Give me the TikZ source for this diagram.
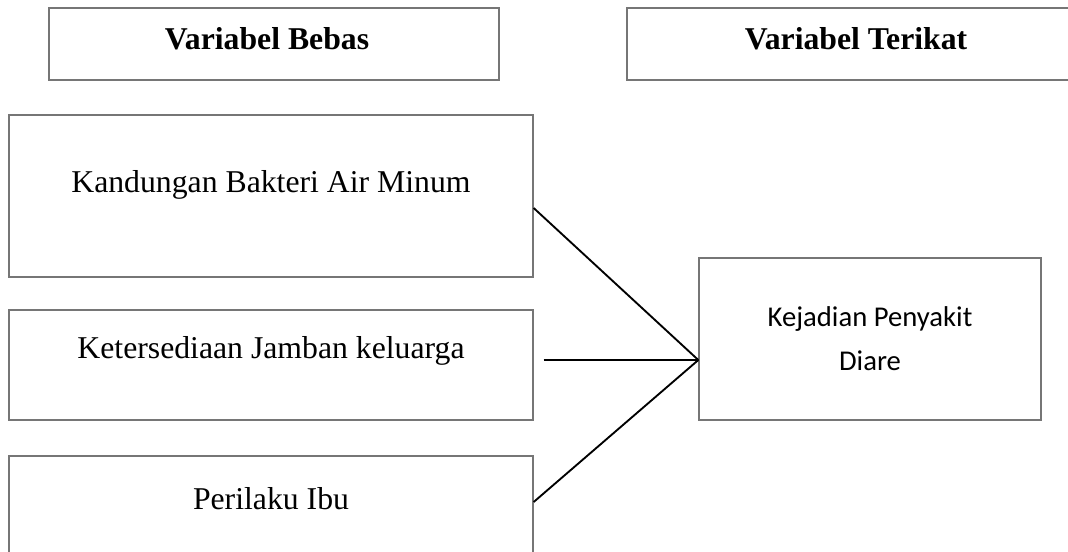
\documentclass[tikz,border=0pt]{standalone}
\usepackage{fontspec}
\setmainfont{Liberation Serif}
\newfontfamily\calibri{Carlito}
\definecolor{abu}{RGB}{118,118,118}

\tikzset{
  kotak/.style={draw=abu, line width=1pt, inner sep=0pt},
  teks/.style={anchor=base, inner sep=0pt, font=\fontsize{23.8}{28}\selectfont},
  garis/.style={black, line width=1.4pt},
}

\begin{document}
\begin{tikzpicture}[x=0.75pt,y=-0.75pt]

\clip (0,0) rectangle (1068,551);
\fill[white] (0,0) rectangle (1068,551);

% judul
\node (bebas) at (274,44) [kotak, minimum width=337.5pt, minimum height=54pt] {};
\node (terikat) at (856,44) [kotak, minimum width=343.5pt, minimum height=54pt] {};
\node (judulbebas) at (267,49) [teks] {\textbf{Variabel Bebas}};
\node (judulterikat) at (856,49) [teks] {\textbf{Variabel Terikat}};

% variabel bebas
\node (kandungan) at (271,196) [kotak, minimum width=393pt, minimum height=121.5pt] {};
\node (jamban) at (271,365) [kotak, minimum width=393pt, minimum height=82.5pt] {};
\node (ibu) at (271,528) [kotak, minimum width=393pt, minimum height=108pt] {};

\node (tkandungan) at (271,192) [teks] {Kandungan Bakteri Air Minum};
\node (tjamban) at (271,358) [teks] {Ketersediaan Jamban keluarga};
\node (tibu) at (271,509) [teks] {Perilaku Ibu};

% variabel terikat
\node (diare) at (870,339) [kotak, minimum width=256.5pt, minimum height=121.5pt,
  align=center, font=\calibri\fontsize{21.5}{33}\selectfont]
  {Kejadian Penyakit\\Diare};

\coordinate (hub) at ([yshift=-15.75pt]diare.west);

\draw [garis] ([yshift=-9pt]kandungan.east) -- (hub);
\draw [garis] ([xshift=7.5pt, yshift=3.75pt]jamban.east) -- (hub);
\draw [garis] ([yshift=19.5pt]ibu.east) -- (hub);

\end{tikzpicture}
\end{document}
